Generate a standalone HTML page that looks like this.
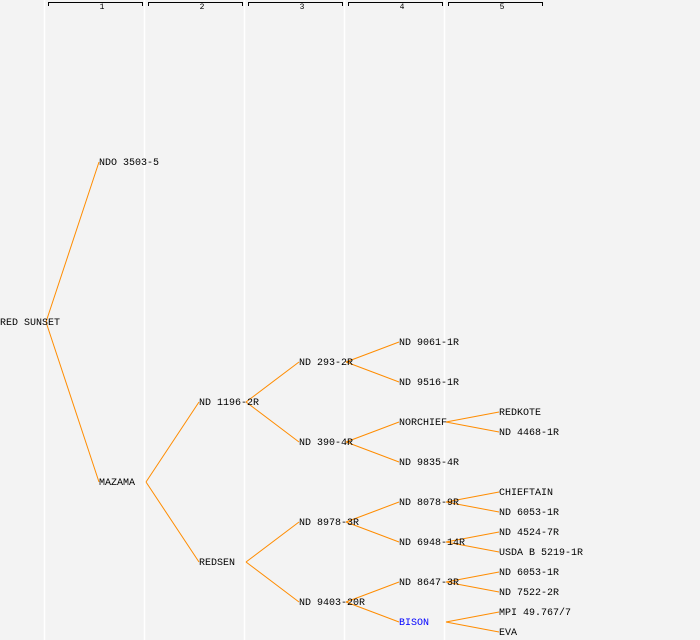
<!DOCTYPE html>
<html><head><style>
html,body{margin:0;padding:0;background:#f3f3f3;}
svg{display:block;}
text{font-family:"Liberation Mono","DejaVu Sans Mono",monospace;font-size:10px;fill:#000;}
.n{font-size:8px;}
</style></head><body>
<svg width="700" height="640" viewBox="0 0 700 640" xmlns="http://www.w3.org/2000/svg">
<rect width="700" height="640" fill="#f3f3f3"/>
<g stroke="#fff" stroke-width="1.5">
<line x1="44.5" y1="0" x2="44.5" y2="640"/>
<line x1="144.5" y1="0" x2="144.5" y2="640"/>
<line x1="244.5" y1="0" x2="244.5" y2="640"/>
<line x1="344.5" y1="0" x2="344.5" y2="640"/>
<line x1="444.5" y1="0" x2="444.5" y2="640"/>
</g>
<g stroke="#000" stroke-width="1" fill="none">
<path d="M48.5,6V2.5H142.5V6"/>
<path d="M148.5,6V2.5H242.5V6"/>
<path d="M248.5,6V2.5H342.5V6"/>
<path d="M348.5,6V2.5H442.5V6"/>
<path d="M448.5,6V2.5H542.5V6"/>
</g>
<g text-anchor="middle">
<text class="n" x="102" y="9">1</text>
<text class="n" x="202" y="9">2</text>
<text class="n" x="302" y="9">3</text>
<text class="n" x="402" y="9">4</text>
<text class="n" x="502" y="9">5</text>
</g>
<g stroke="#ff8c00" stroke-width="1" fill="none">
<path d="M46,322L99,162M46,322L99,482"/>
<path d="M146,482L199,402M146,482L199,562"/>
<path d="M246,402L299,362M246,402L299,442M246,562L299,522M246,562L299,602"/>
<path d="M346,362L399,342M346,362L399,382M346,442L399,422M346,442L399,462M346,522L399,502M346,522L399,542M346,602L399,582M346,602L399,622"/>
<path d="M446,422L499,412M446,422L499,432M446,502L499,492M446,502L499,512M446,542L499,532M446,542L499,552M446,582L499,572M446,582L499,592M446,622L499,612M446,622L499,632"/>
</g>
<g>
<text x="0" y="325">RED SUNSET</text>
<text x="99" y="165">NDO 3503-5</text>
<text x="99" y="485">MAZAMA</text>
<text x="199" y="405">ND 1196-2R</text>
<text x="199" y="565">REDSEN</text>
<text x="299" y="365">ND 293-2R</text>
<text x="299" y="445">ND 390-4R</text>
<text x="299" y="525">ND 8978-3R</text>
<text x="299" y="605">ND 9403-20R</text>
<text x="399" y="345">ND 9061-1R</text>
<text x="399" y="385">ND 9516-1R</text>
<text x="399" y="425">NORCHIEF</text>
<text x="399" y="465">ND 9835-4R</text>
<text x="399" y="505">ND 8078-9R</text>
<text x="399" y="545">ND 6948-14R</text>
<text x="399" y="585">ND 8647-3R</text>
<text x="399" y="625" style="fill:#0000ff">BISON</text>
<text x="499" y="415">REDKOTE</text>
<text x="499" y="435">ND 4468-1R</text>
<text x="499" y="495">CHIEFTAIN</text>
<text x="499" y="515">ND 6053-1R</text>
<text x="499" y="535">ND 4524-7R</text>
<text x="499" y="555">USDA B 5219-1R</text>
<text x="499" y="575">ND 6053-1R</text>
<text x="499" y="595">ND 7522-2R</text>
<text x="499" y="615">MPI 49.767/7</text>
<text x="499" y="635">EVA</text>
</g>
</svg>
</body></html>
